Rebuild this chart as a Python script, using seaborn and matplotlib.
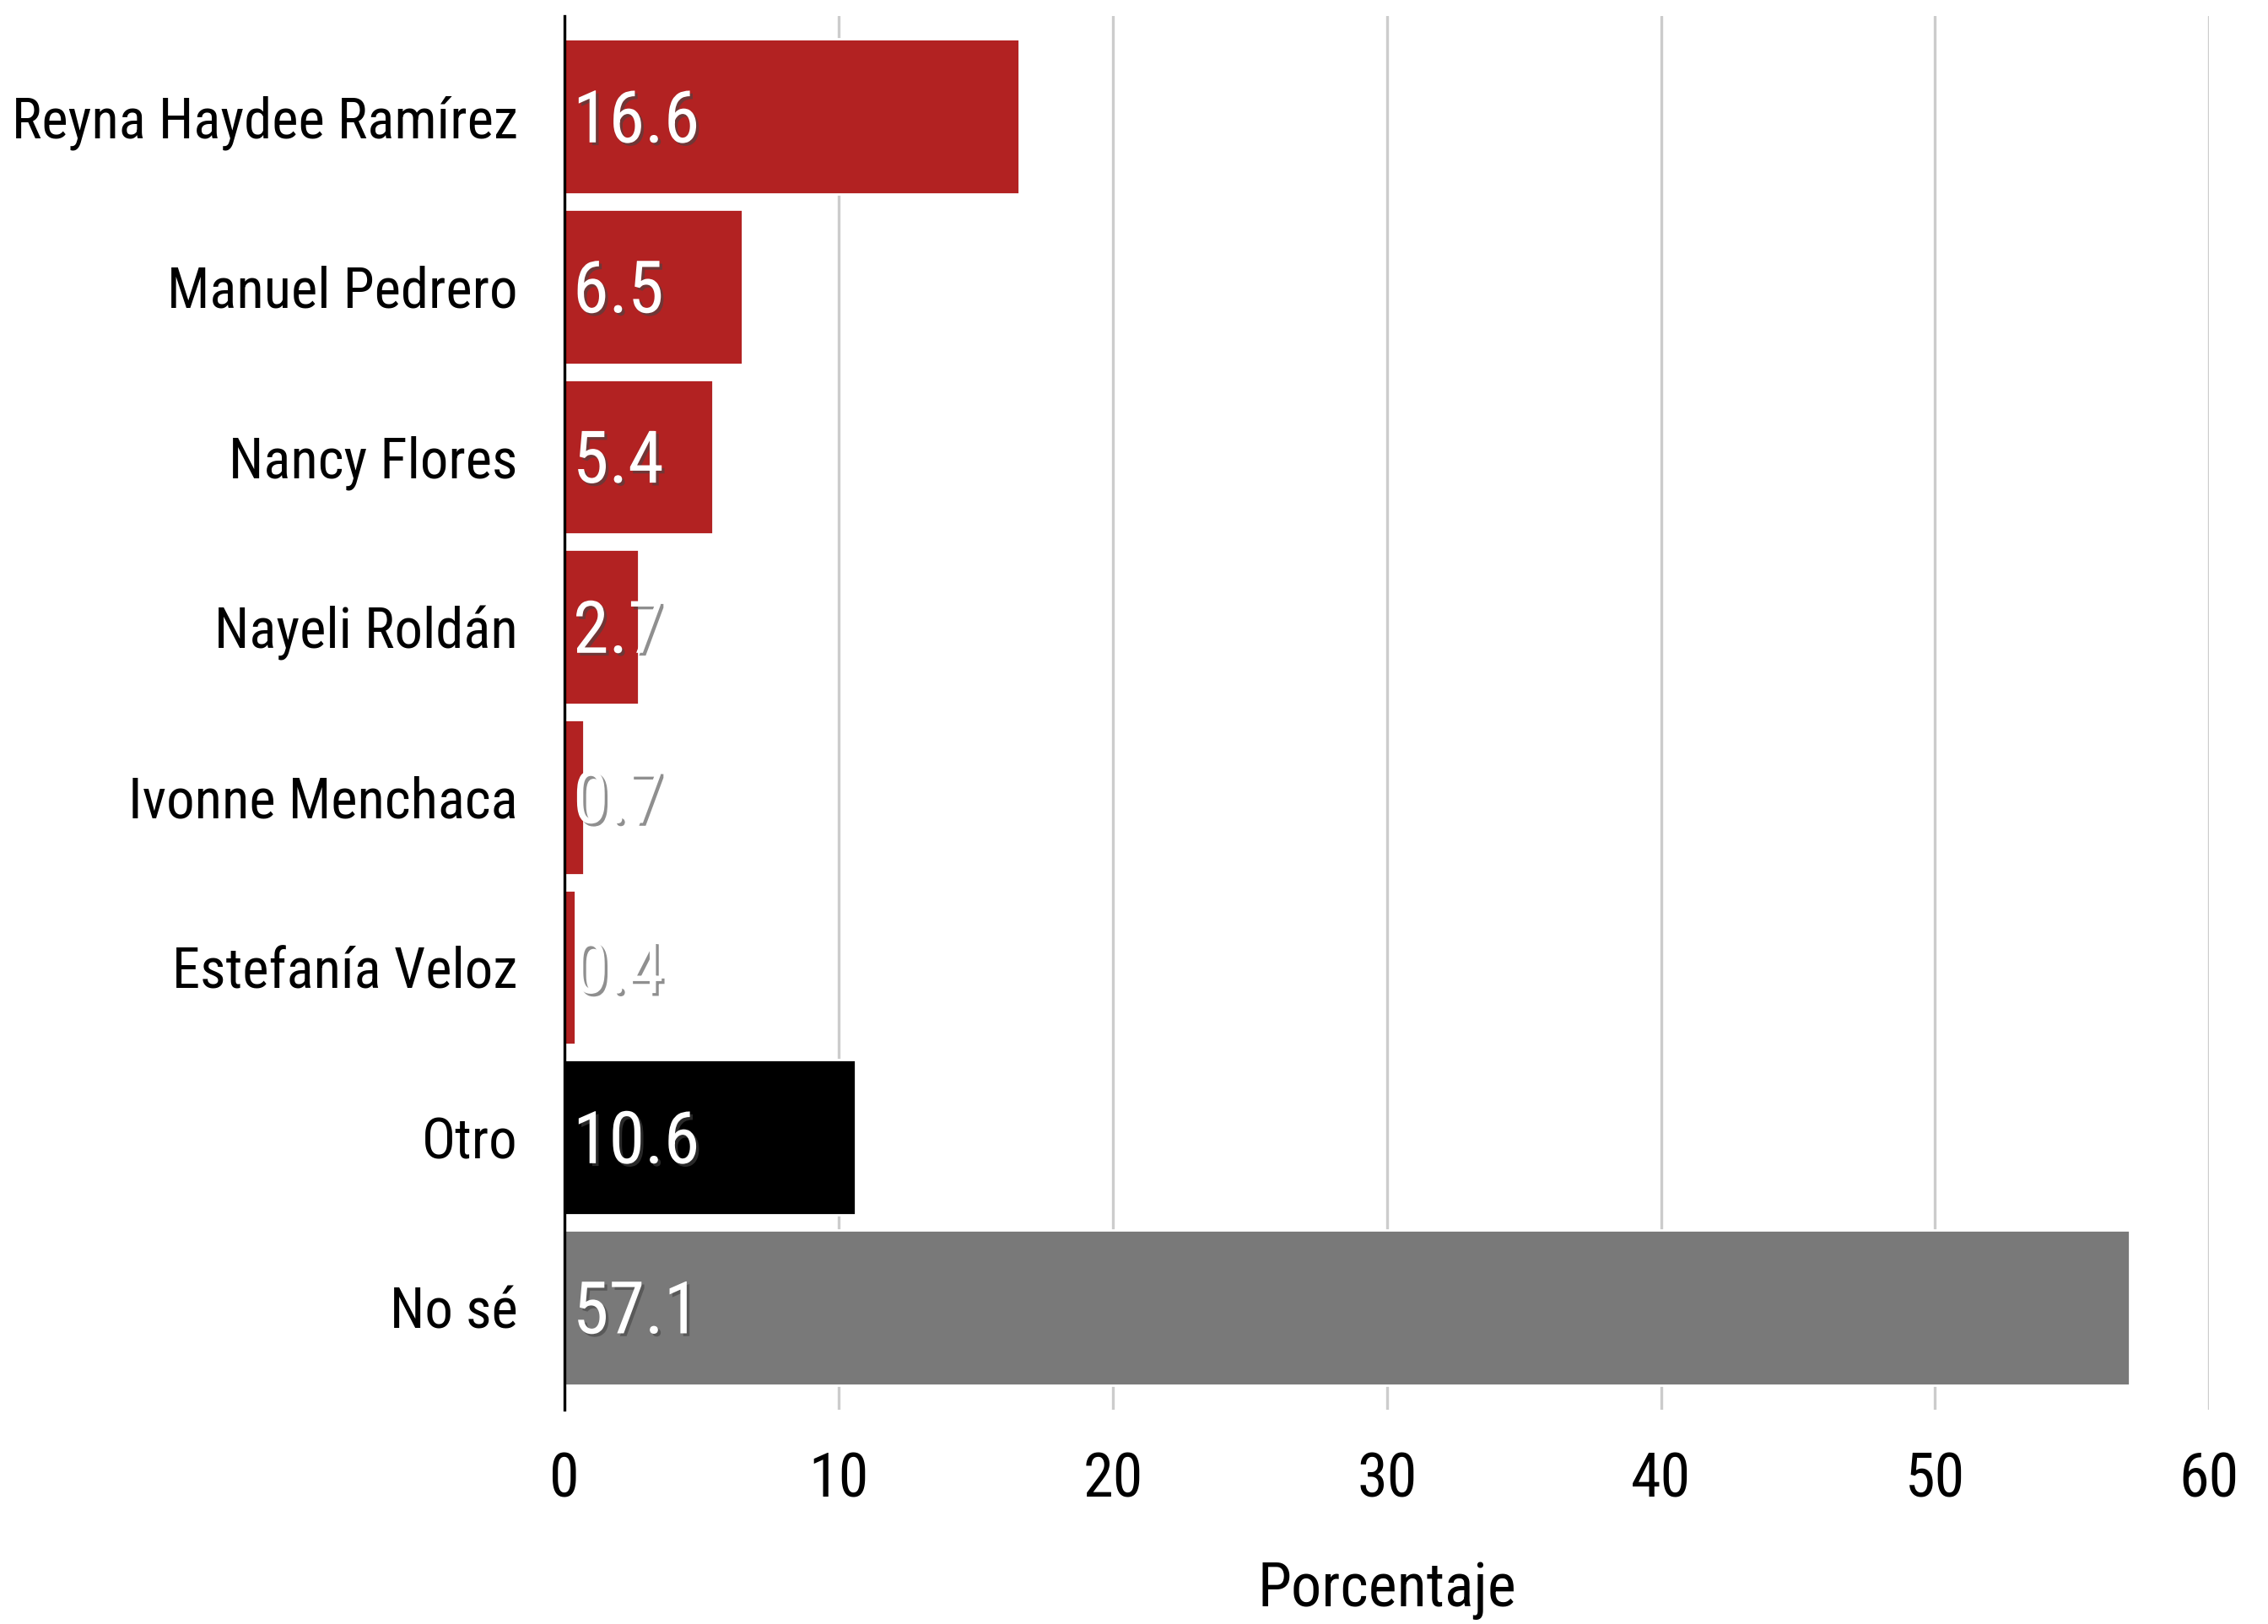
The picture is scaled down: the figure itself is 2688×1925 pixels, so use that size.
import matplotlib
matplotlib.use("Agg")
import matplotlib.pyplot as plt
import matplotlib.patheffects as pe
import pandas as pd
import seaborn as sns

candidatos = ["Reyna Haydee Ramírez", "Manuel Pedrero", "Nancy Flores", "Nayeli Roldán",
              "Ivonne Menchaca", "Estefanía Veloz", "Otro", "No sé"]
porcentajes = [16.6, 6.5, 5.4, 2.7, 0.7, 0.4, 10.6, 57.1]
colores = ["#B22222"] * 6 + ["#000000", "#797979"]

df = pd.DataFrame({"candidato": candidatos, "pct": porcentajes})

sns.set_theme(style="white")
plt.rcParams["font.family"] = ["Roboto Condensed", "Liberation Sans Narrow", "DejaVu Sans"]
plt.rcParams["text.color"] = "black"

fig = plt.figure(figsize=(13.44, 9.625), dpi=200)
ax = fig.add_axes([0.249, 0.132, 0.725, 0.858])

sns.barplot(data=df, x="pct", y="candidato", hue="candidato", palette=colores,
            legend=False, width=0.91, saturation=1, ax=ax, zorder=2)

ax.set_xlim(0, 60)
ax.set_ylim(7.6, -0.59)
ax.set_xticks(range(0, 61, 10))
ax.grid(axis="x", color="#cccccc", linewidth=1.2, zorder=0)
ax.set_axisbelow(True)
for s in ["top", "right", "bottom"]:
    ax.spines[s].set_visible(False)
ax.spines["left"].set_color("black")
ax.spines["left"].set_linewidth(1.2)
ax.spines["left"].set_zorder(3)
ax.tick_params(axis="x", length=0, labelsize=26, colors="black", pad=18)
ax.tick_params(axis="y", length=0, labelsize=24, colors="black", pad=20)
ax.set_ylabel("")
ax.set_xlabel("Porcentaje", fontsize=26, labelpad=22, color="black")

# etiquetas blancas con sombra gris
sombra = [pe.SimplePatchShadow(offset=(1.2, -1.2), shadow_rgbFace="#444444", alpha=0.6),
          pe.Normal()]
for i, v in enumerate(porcentajes):
    ax.text(0.3, i + 0.035, f"{v}", color="white", fontsize=31, va="center", ha="left",
            path_effects=sombra, zorder=4)

fig.savefig("out.png", dpi=200)
